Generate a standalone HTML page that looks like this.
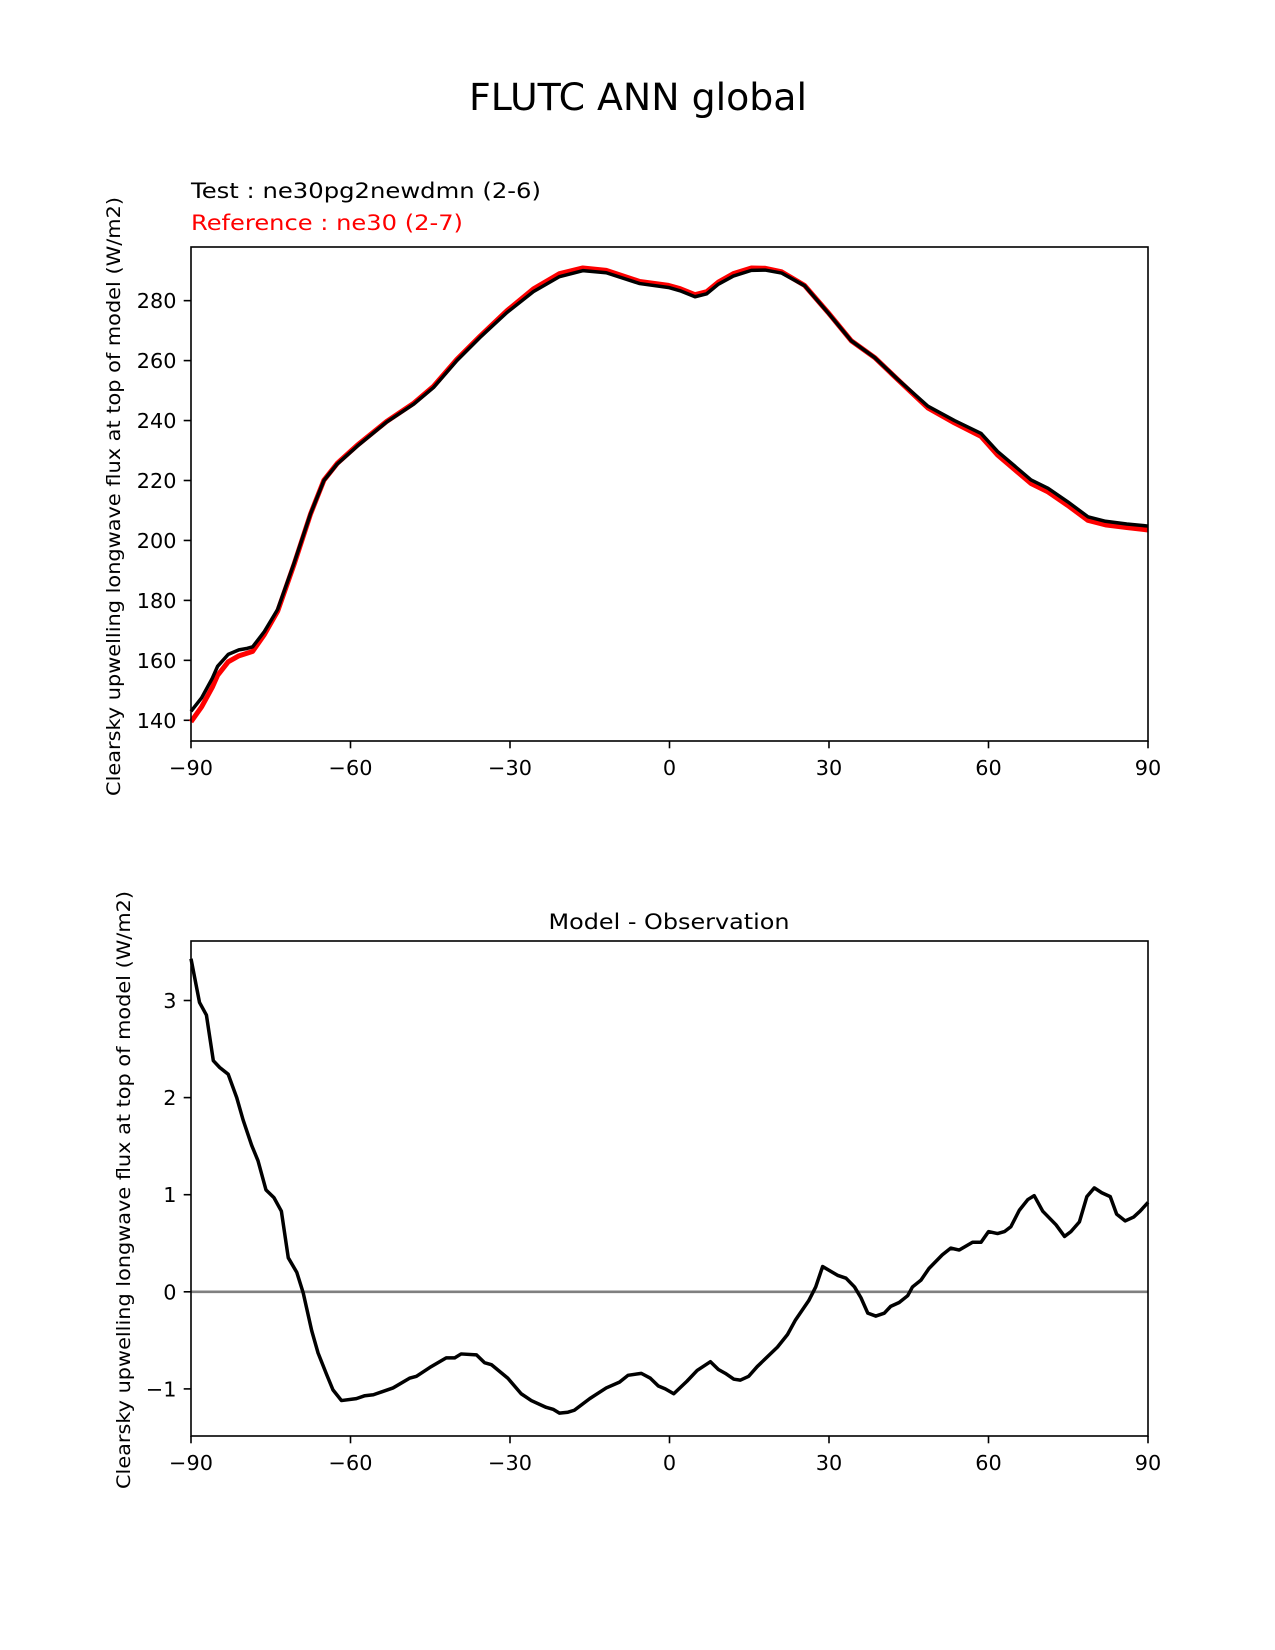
<!DOCTYPE html>
<html><head><meta charset="utf-8"><style>
html,body{margin:0;padding:0;background:#fff;}
svg{display:block;font-family:"DejaVu Sans","Liberation Sans",sans-serif;}
</style></head><body>
<svg id="fig" width="1275" height="1650" viewBox="0 0 1275 1650" xmlns="http://www.w3.org/2000/svg">
<rect width="1275" height="1650" fill="#fff"/>
<text x="638" y="110" font-size="37" text-anchor="middle" textLength="338" lengthAdjust="spacingAndGlyphs">FLUTC ANN global</text>
<text x="191" y="198" font-size="21" textLength="350" lengthAdjust="spacingAndGlyphs">Test : ne30pg2newdmn (2-6)</text>
<text x="191" y="230" font-size="21" fill="#ff0000" textLength="272" lengthAdjust="spacingAndGlyphs">Reference : ne30 (2-7)</text>
<text transform="translate(120,496.5) rotate(-90)" font-size="19" text-anchor="middle" textLength="599" lengthAdjust="spacingAndGlyphs">Clearsky upwelling longwave flux at top of model (W/m2)</text>
<text transform="translate(130,1190) rotate(-90)" font-size="19" text-anchor="middle" textLength="598" lengthAdjust="spacingAndGlyphs">Clearsky upwelling longwave flux at top of model (W/m2)</text>
<text x="669" y="929" font-size="21" text-anchor="middle" textLength="241" lengthAdjust="spacingAndGlyphs">Model - Observation</text>
<g id="top"></g>
<g id="bot"></g>
</svg>
<script>
const xTicks = [-90, -60, -30, 0, 30, 60, 90];
const xTickLabels = ["\u221290", "\u221260", "\u221230", "0", "30", "60", "90"];
const topYTicks = [140, 160, 180, 200, 220, 240, 260, 280];
const botYTicks = [-1, 0, 1, 2, 3];
const botYTickLabels = ["\u22121", "0", "1", "2", "3"];

const topLats = [-90,-88,-86,-85,-83,-81,-79.4,-78.4,-76.2,-73.7,-70.6,-67.5,-65,-62.5,-58.7,-53.2,-48.1,-44.4,-40,-35.6,-30.6,-25.6,-20.7,-16.3,-11.9,-5.6,-0.2,2,4.8,7,9.2,12,15.4,18,21.1,25.4,29.8,34.2,38.6,42.9,48.6,53.6,58.6,61.7,68,71.2,74.9,78.7,82,86,90];
const refValues = [139.5,144.5,151,155,159.5,161.5,162.4,163,168.6,176.4,192.1,208.9,220.1,225.7,231.8,239.7,245.8,251.4,260.4,268.2,276.6,283.9,289,290.9,290.1,286.4,285.1,284,282,283,286.2,289,290.9,290.8,289.6,285.1,276.1,266.6,261,253.7,244.2,239.2,234.7,228.5,219,216.2,211.7,206.7,205.2,204.3,203.5];
const testValues = [143,147.5,154,158,162,163.5,164,164.5,169.6,177,192.5,209,220,225.5,231.5,239.5,245.5,251,260,267.8,276,283,288,290,289.3,285.7,284.4,283.3,281.3,282.3,285.5,288.2,290.1,290.2,289.2,285,276,266.6,261,253.8,244.8,240,235.7,229.7,220.2,217.4,212.9,207.9,206.4,205.5,204.8];

const diffLats = [-90,-88.4,-87.1,-85.8,-84.6,-83,-81.4,-80.2,-78.6,-77.4,-75.9,-74.4,-73,-71.7,-70.1,-68.9,-67.3,-66.1,-64.5,-63.3,-61.7,-58.9,-57.3,-55.7,-52,-48.9,-47.6,-45.1,-42,-40.4,-39.2,-36.3,-34.8,-33.5,-30.4,-27.9,-26,-23.2,-21.9,-20.7,-19.1,-17.9,-15,-11.9,-9.4,-7.8,-5.3,-3.6,-2.1,-0.8,0.8,3.3,5.2,7.7,9.2,10.5,12.1,13.3,14.9,16.5,20.3,22.2,23.7,26.2,27.5,28.8,31.6,33.2,34.8,36,37.3,38.8,40.4,41.6,43.2,44.8,45.7,47.3,48.8,51.3,52.9,54.5,57,58.6,60,61.7,63,64.2,65.8,67.4,68.6,70.2,72.7,74.3,75.5,77.1,78.5,79.9,81.3,82.9,84.1,85.7,87.3,88.5,90];
const diffValues = [3.43,2.98,2.85,2.38,2.31,2.24,2.0,1.77,1.51,1.35,1.05,0.97,0.83,0.35,0.2,-0.01,-0.4,-0.63,-0.85,-1.01,-1.12,-1.1,-1.07,-1.06,-0.99,-0.89,-0.87,-0.78,-0.68,-0.68,-0.64,-0.65,-0.73,-0.75,-0.89,-1.05,-1.12,-1.19,-1.21,-1.25,-1.24,-1.22,-1.1,-0.99,-0.93,-0.86,-0.84,-0.89,-0.97,-1.0,-1.05,-0.92,-0.81,-0.72,-0.8,-0.84,-0.9,-0.91,-0.87,-0.77,-0.57,-0.44,-0.29,-0.09,0.05,0.26,0.17,0.14,0.05,-0.06,-0.22,-0.25,-0.22,-0.15,-0.11,-0.04,0.05,0.12,0.24,0.38,0.45,0.43,0.51,0.51,0.62,0.6,0.62,0.67,0.84,0.95,0.99,0.83,0.69,0.57,0.62,0.72,0.98,1.07,1.02,0.98,0.8,0.73,0.77,0.83,0.92];

const NS = "http://www.w3.org/2000/svg";
const X0 = 191, X1 = 1148;
function xScale(lat){ return X0 + (lat + 90) / 180 * (X1 - X0); }
function topY(v){ return 720.3 - (v - 140) * 2.9975; }
function botY(v){ return 1291.8 - v * 97.1; }

function mk(parent, tag, attrs){
  const e = document.createElementNS(NS, tag);
  for (const k in attrs) e.setAttribute(k, attrs[k]);
  parent.appendChild(e);
  return e;
}
function linePath(lats, vals, ys){
  return lats.map((l,i)=>(i?"L":"M")+xScale(l).toFixed(2)+","+ys(vals[i]).toFixed(2)).join(" ");
}

function axes(g, top, bottom, yTicks, yLabels, ys, prefix){
  xTicks.forEach((t,i)=>{
    const x = xScale(t);
    const tk = mk(g,"line",{x1:x,y1:bottom,x2:x,y2:bottom+7.3,stroke:"#000","stroke-width":1.6});
    
    
    const lb = mk(g,"text",{x:x,y:bottom+34,"font-size":20.8,"text-anchor":"middle"});
    lb.textContent = xTickLabels[i];
    
    
  });
  yTicks.forEach((t,i)=>{
    const y = ys(t);
    const tk = mk(g,"line",{x1:X0-7.3,y1:y,x2:X0,y2:y,stroke:"#000","stroke-width":1.6});
    
    
    const lb = mk(g,"text",{x:X0-14.5,y:y+7.5,"font-size":20.8,"text-anchor":"end"});
    lb.textContent = yLabels[i];
    
    
  });
}

const gt = document.getElementById("top");
axes(gt, 247, 741, topYTicks, topYTicks.map(String), topY, "top");
const refLine = mk(gt,"path",{d:linePath(topLats, refValues, topY),fill:"none",stroke:"#ff0000","stroke-width":5,"stroke-linejoin":"round"});


const testLine = mk(gt,"path",{d:linePath(topLats, testValues, topY),fill:"none",stroke:"#000","stroke-width":3.5,"stroke-linejoin":"round"});


const topFrame = mk(gt,"rect",{x:X0,y:247,width:X1-X0,height:741-247,fill:"none",stroke:"#000","stroke-width":1.6});



const gb = document.getElementById("bot");
axes(gb, 941, 1436, botYTicks, botYTickLabels, botY, "bottom");
const zl = mk(gb,"line",{x1:X0,x2:X1,y1:botY(0),y2:botY(0),stroke:"#808080","stroke-width":2.6});


const diffLine = mk(gb,"path",{d:linePath(diffLats, diffValues, botY),fill:"none",stroke:"#000","stroke-width":3.5,"stroke-linejoin":"round"});


const botFrame = mk(gb,"rect",{x:X0,y:941,width:X1-X0,height:1436-941,fill:"none",stroke:"#000","stroke-width":1.6});


</script>
</body></html>
